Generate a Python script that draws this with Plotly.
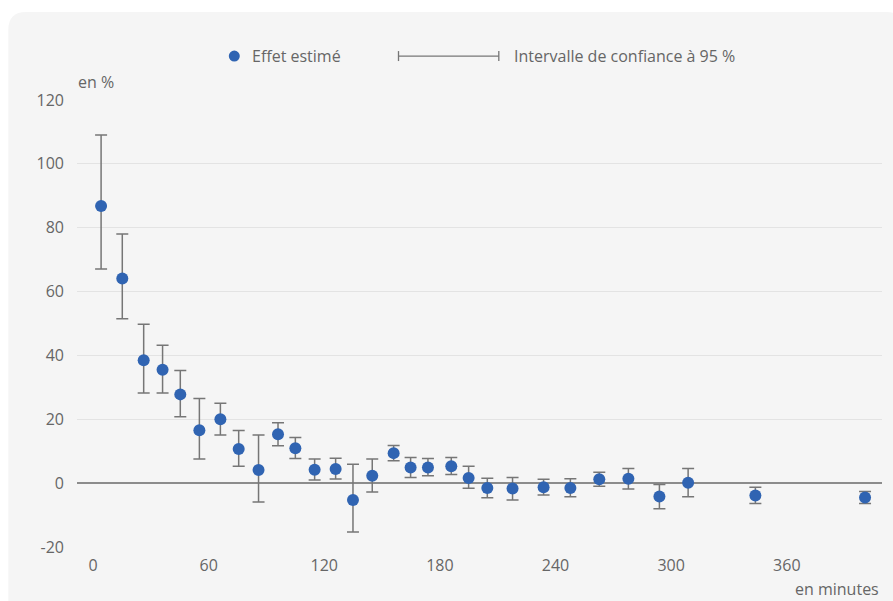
import plotly.graph_objects as go

# ---- data ----
minutes = [4.2, 15.2, 26.3, 36.1, 45.3, 55.2, 66.1, 75.6, 85.9, 96.0,
           105.0, 115.0, 125.9, 134.9, 144.9, 156.0, 164.8, 173.8, 185.9, 194.9,
           204.6, 217.7, 233.8, 247.7, 262.7, 277.8, 293.9, 308.8, 343.7, 400.6]
effet = [86.8, 64.1, 38.5, 35.5, 27.8, 16.6, 20.0, 10.7, 4.1, 15.3,
         10.9, 4.2, 4.4, -5.3, 2.3, 9.4, 4.9, 4.9, 5.3, 1.6,
         -1.5, -1.7, -1.3, -1.5, 1.2, 1.4, -4.2, 0.1, -3.9, -4.5]
ic_haut = [109.0, 78.0, 49.8, 43.2, 35.3, 26.5, 25.0, 16.5, 15.1, 18.9,
           14.3, 7.6, 7.8, 5.9, 7.6, 11.8, 8.0, 7.7, 8.0, 5.3,
           1.5, 1.8, 1.2, 1.4, 3.4, 4.6, -0.4, 4.6, -1.3, -2.6]
ic_bas = [67.1, 51.5, 28.2, 28.2, 20.8, 7.6, 15.1, 5.3, -5.9, 11.7,
          7.7, 1.0, 1.3, -15.3, -2.8, 7.0, 1.8, 2.3, 2.7, -1.6,
          -4.6, -5.3, -3.7, -4.3, -1.0, -1.8, -8.0, -4.3, -6.4, -6.4]
x_ticks = [0, 60, 120, 180, 240, 300, 360]
y_ticks = [-20, 0, 20, 40, 60, 80, 100, 120]

err_plus = [h - v for h, v in zip(ic_haut, effet)]
err_minus = [v - b for v, b in zip(effet, ic_bas)]

BLUE = "#3064b2"
ERR = "#767676"
TXT = "#666666"
FONT = "Open Sans"
FS = 16
W, H = 893, 601
L, R, T, B = 77, 882, 100, 547.5


def px(x):
    return (x - L) / (R - L)


def py(y):
    return (B - y) / (B - T)


fig = go.Figure()
fig.add_trace(go.Scatter(
    x=minutes, y=effet, mode="markers",
    marker=dict(color=BLUE, size=12, line=dict(width=0)),
    error_y=dict(type="data", symmetric=False, array=err_plus,
                 arrayminus=err_minus, color=ERR, thickness=1.5, width=6),
    showlegend=False, cliponaxis=False,
))

shapes = []
# rounded light-gray panel
x0, y0, x1, y1, r = 8.3, 12, 905, 610, 18
path = (f"M {px(x0)},{py(y0 + r)} "
        f"Q {px(x0)},{py(y0)} {px(x0 + r)},{py(y0)} "
        f"L {px(x1 - r)},{py(y0)} "
        f"Q {px(x1)},{py(y0)} {px(x1)},{py(y0 + r)} "
        f"L {px(x1)},{py(y1)} L {px(x0)},{py(y1)} Z")
shapes.append(dict(type="path", path=path, xref="paper", yref="paper",
                   fillcolor="#f5f5f5", line=dict(width=0), layer="below"))
# legend: marker
ly = 56
shapes.append(dict(type="circle", xref="paper", yref="paper",
                   x0=px(234.3 - 5.5), x1=px(234.3 + 5.5),
                   y0=py(ly + 5.5), y1=py(ly - 5.5),
                   fillcolor=BLUE, line=dict(width=0)))
# legend: error bar glyph
lx0, lx1 = 398.5, 498.8
for seg in [((lx0, ly), (lx1, ly)), ((lx0, ly - 5), (lx0, ly + 5)),
            ((lx1, ly - 5), (lx1, ly + 5))]:
    (a, b), (c, d) = seg
    shapes.append(dict(type="line", xref="paper", yref="paper",
                       x0=px(a), y0=py(b), x1=px(c), y1=py(d),
                       line=dict(color=ERR, width=1.3)))

annotations = [
    dict(text="Effet estimé", x=px(249.7), y=py(ly), xref="paper", yref="paper",
         xanchor="left", yanchor="middle", showarrow=False,
         font=dict(family=FONT, size=FS, color=TXT)),
    dict(text="Intervalle de confiance à 95 %", x=px(511.8), y=py(ly),
         xref="paper", yref="paper", xanchor="left", yanchor="middle",
         showarrow=False, font=dict(family=FONT, size=FS, color=TXT)),
    dict(text="en %", x=px(75.5), y=py(81.5), xref="paper", yref="paper",
         xanchor="left", yanchor="middle", showarrow=False,
         font=dict(family=FONT, size=FS, color=TXT)),
    dict(text="en minutes", x=px(881), y=py(590), xref="paper", yref="paper",
         xanchor="right", yanchor="middle", showarrow=False,
         font=dict(family=FONT, size=FS, color=TXT)),
]

fig.update_layout(
    width=W, height=H,
    margin=dict(l=L, r=W - R, t=T, b=H - B),
    paper_bgcolor="white", plot_bgcolor="rgba(0,0,0,0)",
    font=dict(family=FONT, size=FS, color=TXT),
    shapes=shapes, annotations=annotations, showlegend=False,
)
fig.update_xaxes(range=[-8.3, 409.4], tickvals=x_ticks,
                 ticktext=[str(v) for v in x_ticks],
                 showgrid=False, zeroline=False, showline=False,
                 ticks="", ticklabelstandoff=7,
                 tickfont=dict(family=FONT, size=FS, color=TXT))
fig.update_yaxes(range=[-20, 120], tickvals=y_ticks,
                 ticktext=[str(v) for v in y_ticks],
                 showgrid=True, gridcolor="#e3e3e3", gridwidth=1,
                 zeroline=True, zerolinecolor="#8c8c8c", zerolinewidth=2,
                 showline=False,
                 ticks="", ticklabelstandoff=12,
                 tickfont=dict(family=FONT, size=FS, color=TXT))

fig.write_html("out.html")
